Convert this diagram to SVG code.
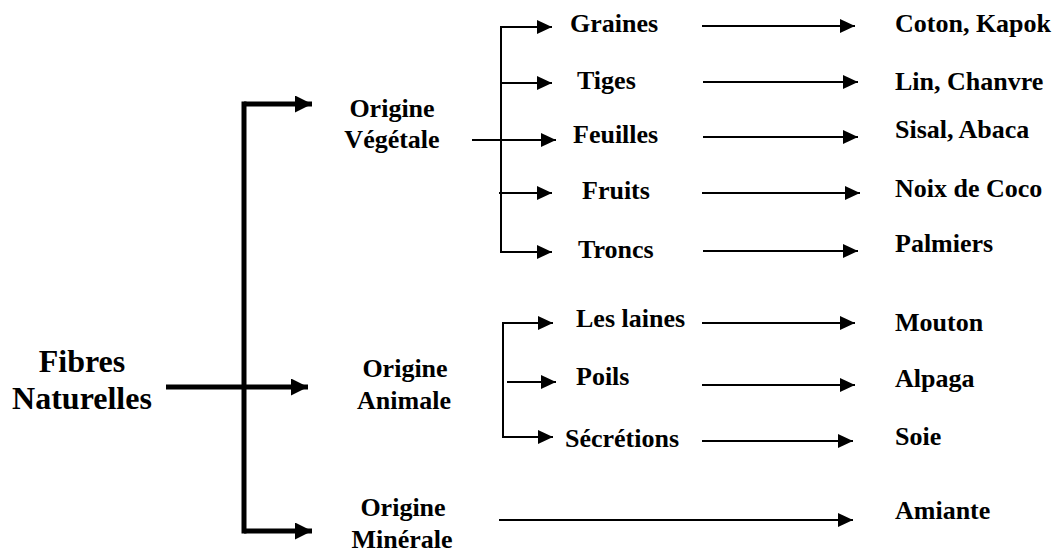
<svg xmlns="http://www.w3.org/2000/svg" width="1059" height="553" viewBox="0 0 1059 553">
<style>
text{font-weight:bold;fill:#000;font-size:26px}
.big{font-size:32px}
.mid{text-anchor:middle}
.thin{stroke:#000;stroke-width:2;fill:none}
.thick{stroke:#000;stroke-width:5;fill:none}
</style>
<defs>
<marker id="ah" markerUnits="userSpaceOnUse" markerWidth="16" markerHeight="15" refX="15" refY="7" orient="auto"><path d="M0,0 L15,7 L0,14 z" fill="#000"/></marker>
<marker id="ahb" markerUnits="userSpaceOnUse" markerWidth="18" markerHeight="18" refX="17" refY="8.5" orient="auto"><path d="M0,0 L17,8.5 L0,17 z" fill="#000"/></marker>
</defs>
<rect width="1059" height="553" fill="#fff"/>
<g id="connectors">
<line class="thick" x1="244" y1="104" x2="244" y2="531" stroke-linecap="square"/>
<line class="thick" x1="244" y1="104" x2="312" y2="104" marker-end="url(#ahb)"/>
<line class="thick" x1="166" y1="387" x2="308" y2="387" marker-end="url(#ahb)"/>
<line class="thick" x1="244" y1="531" x2="312" y2="531" marker-end="url(#ahb)"/>
<line class="thin" x1="501" y1="26" x2="501" y2="253"/>
<line class="thin" x1="500" y1="27" x2="552" y2="27" marker-end="url(#ah)"/>
<line class="thin" x1="500" y1="83" x2="552" y2="83" marker-end="url(#ah)"/>
<line class="thin" x1="472" y1="140" x2="556" y2="140" marker-end="url(#ah)"/>
<line class="thin" x1="499" y1="193" x2="552" y2="193" marker-end="url(#ah)"/>
<line class="thin" x1="500" y1="252" x2="552" y2="252" marker-end="url(#ah)"/>
<line class="thin" x1="503" y1="322" x2="503" y2="438"/>
<line class="thin" x1="502" y1="323" x2="553" y2="323" marker-end="url(#ah)"/>
<line class="thin" x1="507" y1="382" x2="556" y2="382" marker-end="url(#ah)"/>
<line class="thin" x1="502" y1="437" x2="553" y2="437" marker-end="url(#ah)"/>
<line class="thin" x1="702" y1="26" x2="855" y2="26" marker-end="url(#ah)"/>
<line class="thin" x1="703" y1="82" x2="858" y2="82" marker-end="url(#ah)"/>
<line class="thin" x1="703" y1="137" x2="858" y2="137" marker-end="url(#ah)"/>
<line class="thin" x1="702" y1="193" x2="860" y2="193" marker-end="url(#ah)"/>
<line class="thin" x1="703" y1="251" x2="858" y2="251" marker-end="url(#ah)"/>
<line class="thin" x1="702" y1="323" x2="855" y2="323" marker-end="url(#ah)"/>
<line class="thin" x1="702" y1="385" x2="855" y2="385" marker-end="url(#ah)"/>
<line class="thin" x1="702" y1="441" x2="853" y2="441" marker-end="url(#ah)"/>
<line class="thin" x1="499" y1="520" x2="853" y2="520" marker-end="url(#ah)"/>
</g>
<g font-family="Liberation Serif, DejaVu Serif, serif">
<g id="fibres"><text class="big mid" x="82" y="372">Fibres</text><text class="big mid" x="82" y="409">Naturelles</text></g>
<g id="vegetale"><text class="mid" x="392" y="117">Origine</text><text class="mid" x="392" y="148">Végétale</text></g>
<g id="animale"><text class="mid" x="405" y="377">Origine</text><text class="mid" x="404" y="409">Animale</text></g>
<g id="minerale"><text class="mid" x="403" y="516">Origine</text><text class="mid" x="402" y="548">Minérale</text></g>
<g id="graines"><text x="570" y="32">Graines</text></g>
<g id="tiges"><text x="577" y="89">Tiges</text></g>
<g id="feuilles"><text x="573" y="143">Feuilles</text></g>
<g id="fruits"><text x="582" y="199">Fruits</text></g>
<g id="troncs"><text x="578" y="258">Troncs</text></g>
<g id="laines"><text x="576" y="327">Les laines</text></g>
<g id="poils"><text x="576" y="385">Poils</text></g>
<g id="secretions"><text x="565" y="447">Sécrétions</text></g>
<g id="coton"><text x="895" y="32">Coton, Kapok</text></g>
<g id="lin"><text x="895" y="90">Lin, Chanvre</text></g>
<g id="sisal"><text x="895" y="138">Sisal, Abaca</text></g>
<g id="noix"><text x="895" y="197">Noix de Coco</text></g>
<g id="palmiers"><text x="895" y="252">Palmiers</text></g>
<g id="mouton"><text x="895" y="331">Mouton</text></g>
<g id="alpaga"><text x="895" y="387">Alpaga</text></g>
<g id="soie"><text x="895" y="445">Soie</text></g>
<g id="amiante"><text x="895" y="519">Amiante</text></g>
</g>
</svg>
